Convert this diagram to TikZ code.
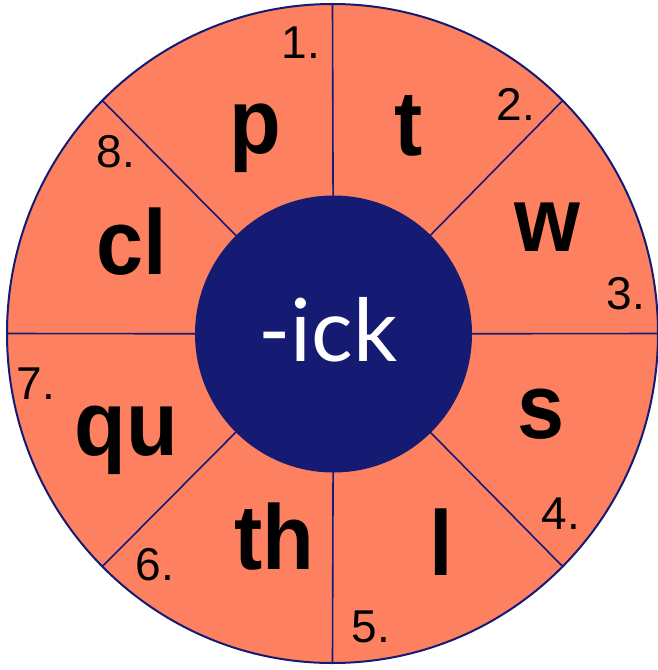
\documentclass[tikz,border=0pt]{standalone}
\usepackage{fontspec}
\setmainfont{Liberation Sans}
\newfontfamily\letterfont{Liberation Sans}[FakeStretch=0.92]
\newfontfamily\numfont{Liberation Sans}
\newfontfamily\centerfont{Lato}
\definecolor{wedge}{RGB}{253,128,96}
\definecolor{navy}{RGB}{21,26,115}
\tikzset{
  letter/.style={anchor=base, inner sep=0pt, font=\letterfont\bfseries\fontsize{92}{92}\selectfont},
  numlabel/.style={anchor=base, inner sep=0pt, font=\numfont\fontsize{46}{46}\selectfont},
  divider/.style={draw=navy, line width=1.6pt},
}
\begin{document}
\begin{tikzpicture}[x=1pt,y=-1pt]
\useasboundingbox (0,0) rectangle (657,670);
% outer disc
\fill[wedge] (332.5,333.5) ellipse [x radius=325.5, y radius=329.5];
% dividers
\coordinate (c) at (333.5,334);
\foreach \a in {0,45,...,315}{
  \draw[divider] (c) -- ({332.5+325.5*cos(\a)},{333.5+329.5*sin(\a)});
}
\draw[navy, line width=2pt] (332.5,333.5) ellipse [x radius=325.5, y radius=329.5];
% inner disc
\fill[navy] (c) circle [radius=138.5];
\node[anchor=base, inner sep=0pt, text=white, font=\centerfont\fontsize{87}{87}\selectfont] (hub) at (328,361) {-ick};
% letters
\node[letter] (p) at (255,153) {p};
\node[letter] (t) at (409,155) {t};
\node[letter] (w) at (547,251) {w};
\node[letter] (s) at (541,438) {s};
\node[letter] (l) at (441,575) {l};
\node[letter] (th) at (274,569) {th};
\node[letter] (qu) at (126,455) {qu};
\node[letter] (cl) at (132,274) {cl};
% numbers
\node[numlabel] (n1) at (301,58) {1.};
\node[numlabel] (n2) at (516,120) {2.};
\node[numlabel] (n3) at (626,309) {3.};
\node[numlabel] (n4) at (561,529) {4.};
\node[numlabel] (n5) at (371,642) {5.};
\node[numlabel] (n6) at (155,580) {6.};
\node[numlabel] (n7) at (36,399) {7.};
\node[numlabel] (n8) at (116,167) {8.};
\end{tikzpicture}
\end{document}
